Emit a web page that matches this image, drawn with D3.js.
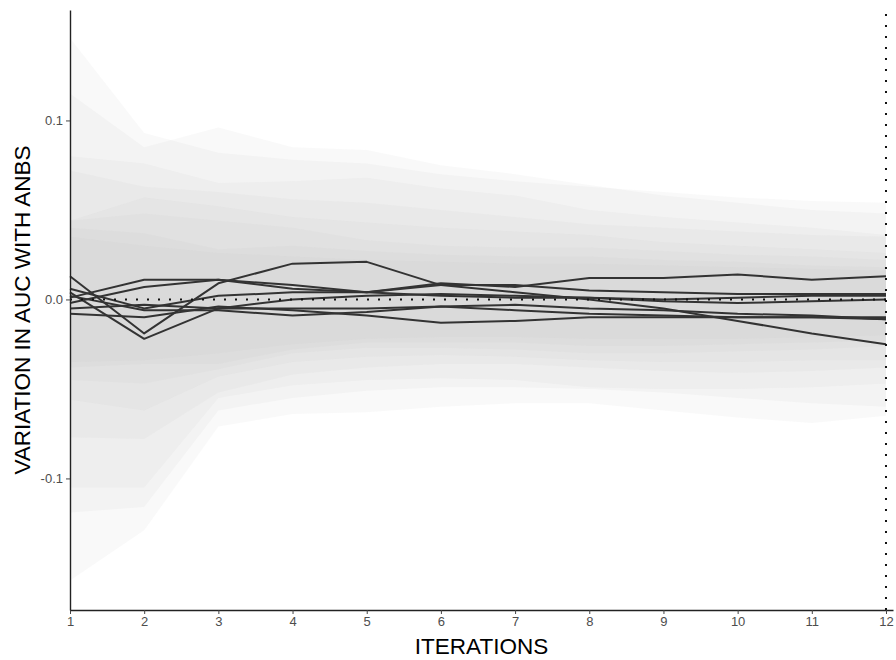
<!DOCTYPE html>
<html>
<head>
<meta charset="utf-8">
<script src="https://cdn.jsdelivr.net/npm/d3@7"></script>
<style>
  html, body { margin: 0; padding: 0; background: #ffffff; }
  svg { display: block; }
</style>
</head>
<body>
<svg id="chart" width="896" height="660"></svg>
<script>
// ---------- data ----------
const iterations = [1, 2, 3, 4, 5, 6, 7, 8, 9, 10, 11, 12];
const xTickLabels = ["1","2","3","4","5","6","7","8","9","10","11","12"];
const yTickValues = [-0.1, 0.0, 0.1];
const yTickLabels = ["-0.1", "0.0", "0.1"];

// series (variation in AUC)
const auc1 = [0.013, -0.019, 0.009, 0.020, 0.021, 0.008, 0.004, 0.000, -0.005, -0.012, -0.019, -0.025];
const auc2 = [0.006, -0.005, 0.002, 0.004, 0.004, 0.009, 0.007, 0.012, 0.012, 0.014, 0.011, 0.013];
const auc3 = [0.001, 0.011, 0.011, 0.006, 0.004, 0.002, 0.001, 0.001, 0.000, 0.001, 0.002, 0.002];
const auc4 = [-0.002, 0.007, 0.011, 0.008, 0.004, 0.008, 0.008, 0.005, 0.004, 0.003, 0.003, 0.003];
const auc5 = [0.004, -0.022, -0.005, 0.000, 0.002, 0.003, 0.002, 0.001, -0.001, -0.002, -0.001, 0.000];
const auc6 = [-0.008, -0.010, -0.004, -0.006, -0.009, -0.013, -0.012, -0.010, -0.010, -0.010, -0.010, -0.011];
const auc7 = [-0.005, -0.003, -0.005, -0.005, -0.005, -0.004, -0.006, -0.008, -0.009, -0.010, -0.010, -0.010];
const auc8 = [0.002, -0.006, -0.006, -0.009, -0.007, -0.004, -0.003, -0.005, -0.006, -0.008, -0.009, -0.011];

// ribbons (upper / lower bounds)
const upper1 = [0.146, 0.093, 0.082, 0.078, 0.076, 0.070, 0.066, 0.063, 0.060, 0.057, 0.055, 0.054];
const lower1 = [-0.157, -0.129, -0.071, -0.064, -0.063, -0.060, -0.058, -0.058, -0.062, -0.066, -0.069, -0.065];
const upper2 = [0.115, 0.085, 0.096, 0.085, 0.0835, 0.075, 0.070, 0.064, 0.058, 0.054, 0.050, 0.048];
const lower2 = [-0.119, -0.116, -0.062, -0.055, -0.051, -0.049, -0.049, -0.050, -0.052, -0.055, -0.058, -0.060];
const upper3 = [0.080, 0.076, 0.065, 0.066, 0.068, 0.062, 0.058, 0.050, 0.046, 0.043, 0.040, 0.036];
const lower3 = [-0.105, -0.105, -0.055, -0.048, -0.045, -0.044, -0.045, -0.049, -0.050, -0.050, -0.049, -0.047];
const upper4 = [0.072, 0.063, 0.060, 0.056, 0.054, 0.050, 0.046, 0.042, 0.040, 0.038, 0.036, 0.035];
const lower4 = [-0.077, -0.078, -0.052, -0.042, -0.038, -0.036, -0.036, -0.038, -0.040, -0.041, -0.040, -0.038];
const upper5 = [0.044, 0.057, 0.052, 0.046, 0.043, 0.040, 0.038, 0.036, 0.032, 0.030, 0.028, 0.026];
const lower5 = [-0.056, -0.062, -0.043, -0.035, -0.032, -0.031, -0.032, -0.034, -0.035, -0.035, -0.034, -0.034];
const upper6 = [0.044, 0.048, 0.044, 0.040, 0.033, 0.030, 0.029, 0.029, 0.027, 0.025, 0.024, 0.022];
const lower6 = [-0.045, -0.047, -0.039, -0.030, -0.027, -0.027, -0.028, -0.030, -0.030, -0.029, -0.028, -0.026];
const upper7 = [0.040, 0.037, 0.028, 0.030, 0.027, 0.025, 0.024, 0.024, 0.022, 0.021, 0.019, 0.018];
const lower7 = [-0.038, -0.036, -0.036, -0.028, -0.024, -0.024, -0.024, -0.026, -0.026, -0.025, -0.024, -0.023];
const upper8 = [0.035, 0.030, 0.026, 0.024, 0.022, 0.021, 0.020, 0.020, 0.019, 0.018, 0.017, 0.016];
const lower8 = [-0.035, -0.034, -0.030, -0.025, -0.022, -0.021, -0.021, -0.022, -0.022, -0.022, -0.021, -0.020];

const referenceValue = 0;      // horizontal dotted line
const finalIteration = 12;     // vertical dotted line

const xTitle = "ITERATIONS";
const yTitle = "VARIATION IN AUC WITH ANBS";

// ---------- build ----------
const seriesList = [auc1, auc2, auc3, auc4, auc5, auc6, auc7, auc8];
const upperList = [upper1, upper2, upper3, upper4, upper5, upper6, upper7, upper8];
const lowerList = [lower1, lower2, lower3, lower4, lower5, lower6, lower7, lower8];

const svg = d3.select("#chart");
const panel = { left: 70, right: 893, top: 10, bottom: 610 };

const x = d3.scaleLinear().domain([1, 12.0945]).range([panel.left, panel.right]);
const y = d3.scaleLinear().domain([-0.1735, 0.1617]).range([panel.bottom, panel.top]);

const fontFamily = "'Liberation Sans', Arial, Helvetica, sans-serif";

// ribbons
const area = d3.area()
  .x(d => x(d.it))
  .y0(d => y(d.lo))
  .y1(d => y(d.hi));

const ribbonData = upperList.map((up, k) =>
  iterations.map((it, i) => ({ it, hi: up[i], lo: lowerList[k][i] })));

svg.append("g").selectAll("path")
  .data(ribbonData)
  .join("path")
  .attr("d", area)
  .attr("fill", "#bebebe")
  .attr("fill-opacity", 0.09)
  .attr("stroke", "none");

// lines
const line = d3.line()
  .x(d => x(d.it))
  .y(d => y(d.v));

svg.append("g").selectAll("path")
  .data(seriesList.map(s => iterations.map((it, i) => ({ it, v: s[i] }))))
  .join("path")
  .attr("d", line)
  .attr("fill", "none")
  .attr("stroke", "#333333")
  .attr("stroke-width", 2)
  .attr("stroke-linejoin", "round");

// dotted reference lines
svg.append("line")
  .attr("x1", x(1)).attr("x2", x(finalIteration))
  .attr("y1", y(referenceValue)).attr("y2", y(referenceValue))
  .attr("stroke", "#111")
  .attr("stroke-width", 2)
  .attr("stroke-dasharray", "2,9");

svg.append("line")
  .attr("x1", x(finalIteration)).attr("x2", x(finalIteration))
  .attr("y1", panel.bottom).attr("y2", panel.top)
  .attr("stroke", "#111")
  .attr("stroke-width", 2)
  .attr("stroke-dasharray", "2,9");

// axes
const xAxis = d3.axisBottom(x)
  .tickValues(iterations)
  .tickFormat((d, i) => xTickLabels[i])
  .tickSizeInner(4)
  .tickSizeOuter(0)
  .tickPadding(3);

const gx = svg.append("g")
  .attr("transform", `translate(0,${panel.bottom})`)
  .call(xAxis);
gx.select(".domain").attr("stroke", "#222").attr("stroke-width", 1.4);
gx.selectAll(".tick line").attr("stroke", "#444").attr("stroke-width", 1);
gx.selectAll(".tick text")
  .attr("font-family", fontFamily)
  .attr("font-size", 13)
  .attr("fill", "#4d4d4d");

const yAxis = d3.axisLeft(y)
  .tickValues(yTickValues)
  .tickFormat((d, i) => yTickLabels[i])
  .tickSizeInner(4)
  .tickSizeOuter(0)
  .tickPadding(3);

const gy = svg.append("g")
  .attr("transform", `translate(${panel.left},0)`)
  .call(yAxis);
gy.select(".domain").attr("stroke", "#222").attr("stroke-width", 1.4);
gy.selectAll(".tick line").attr("stroke", "#444").attr("stroke-width", 1);
gy.selectAll(".tick text")
  .attr("font-family", fontFamily)
  .attr("font-size", 13)
  .attr("fill", "#4d4d4d");

// titles
svg.append("text")
  .attr("x", (panel.left + panel.right) / 2)
  .attr("y", 654)
  .attr("text-anchor", "middle")
  .attr("font-family", fontFamily)
  .attr("font-size", 22.5)
  .attr("fill", "#000")
  .text(xTitle);

svg.append("text")
  .attr("transform", `translate(30,${(panel.top + panel.bottom) / 2}) rotate(-90)`)
  .attr("text-anchor", "middle")
  .attr("font-family", fontFamily)
  .attr("font-size", 22.5)
  .attr("fill", "#000")
  .text(yTitle);
</script>
</body>
</html>
